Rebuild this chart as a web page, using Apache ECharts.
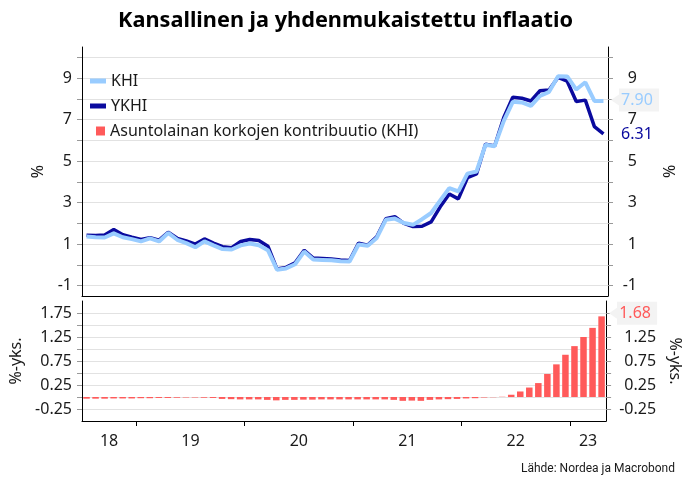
<!DOCTYPE html>
<html><head><meta charset="utf-8">
<script src="https://cdn.jsdelivr.net/npm/echarts@6/dist/echarts.min.js"></script>
<style>html,body{margin:0;padding:0;background:#fff}#c{width:691px;height:485px}</style>
</head><body><div id="c"></div>
<script>
const months = ['2018-07','2018-08','2018-09','2018-10','2018-11','2018-12',
'2019-01','2019-02','2019-03','2019-04','2019-05','2019-06','2019-07','2019-08','2019-09','2019-10','2019-11','2019-12',
'2020-01','2020-02','2020-03','2020-04','2020-05','2020-06','2020-07','2020-08','2020-09','2020-10','2020-11','2020-12',
'2021-01','2021-02','2021-03','2021-04','2021-05','2021-06','2021-07','2021-08','2021-09','2021-10','2021-11','2021-12',
'2022-01','2022-02','2022-03','2022-04','2022-05','2022-06','2022-07','2022-08','2022-09','2022-10','2022-11','2022-12',
'2023-01','2023-02','2023-03','2023-04'];
const khi = [1.37,1.33,1.32,1.52,1.33,1.24,1.13,1.28,1.13,1.54,1.21,1.05,0.85,1.13,0.94,0.76,0.74,0.94,1.03,0.95,0.71,-0.23,-0.17,0.03,0.64,0.26,0.24,0.22,0.17,0.16,0.98,0.92,1.30,2.17,2.23,2.02,1.93,2.20,2.50,3.10,3.70,3.54,4.40,4.50,5.79,5.72,6.93,7.86,7.83,7.66,8.14,8.34,9.09,9.08,8.45,8.80,7.90,7.90];
const ykhi = [1.43,1.42,1.44,1.70,1.45,1.33,1.22,1.31,1.19,1.57,1.28,1.15,1.00,1.25,1.05,0.88,0.83,1.13,1.22,1.17,0.90,-0.20,-0.12,0.10,0.70,0.33,0.31,0.28,0.24,0.21,1.05,0.95,1.35,2.22,2.32,2.00,1.85,1.86,2.07,2.80,3.42,3.18,4.20,4.38,5.82,5.73,7.09,8.08,8.03,7.90,8.39,8.43,9.04,8.85,7.87,7.94,6.66,6.31];
const contrib = [-0.035,-0.035,-0.035,-0.03,-0.03,-0.03,-0.025,-0.025,-0.02,-0.02,-0.015,-0.01,-0.01,-0.015,-0.02,-0.04,-0.045,-0.05,-0.05,-0.05,-0.06,-0.07,-0.06,-0.06,-0.055,-0.055,-0.05,-0.05,-0.05,-0.05,-0.05,-0.05,-0.05,-0.05,-0.06,-0.08,-0.075,-0.08,-0.06,-0.05,-0.045,-0.04,-0.03,-0.025,-0.01,-0.005,0.005,0.047,0.115,0.197,0.29,0.48,0.68,0.88,1.06,1.25,1.44,1.68];
const topTicks = [-1,0,1,2,3,4,5,6,7,8,9,10];
const topLabels = [-1,1,3,5,7,9];
const botTicks = [-0.25,0,0.25,0.5,0.75,1,1.25,1.5,1.75];
const botLabels = [-0.25,0.25,0.75,1.25,1.75];

const FONT = 'Noto Sans';
const TXT = '#1a1a1a';
const C_KHI = '#99ccff', C_YKHI = '#0a0a9e', C_BAR = '#ff5a5a';
const BAR_NAME = 'Asuntolainan korkojen kontribuutio (KHI)';

// year boundaries and label positions derived from categories
const janIdx = [], yearPos = [], yearLab = [];
const years = {};
months.forEach((m, i) => {
  const y = m.slice(2, 4);
  if (m.endsWith('-01') && i > 0) janIdx.push(i);
  if (!years[y]) years[y] = [i, i]; else years[y][1] = i;
});
Object.keys(years).forEach(y => { yearPos.push((years[y][0] + years[y][1] + 1) / 2); yearLab.push(y); });

const TAG = 'path://M0,11.5 L8,6 L8,0 L48,0 L48,23 L8,23 L8,17 Z';
const last = months.length - 1;
function tagPoint(val, color, bg, dy) {
  return {
    symbol: TAG, symbolSize: [48, 23], symbolOffset: [31.5, dy], silent: true,
    itemStyle: { color: bg },
    label: { show: true, position: 'inside', offset: [2, 0], color: color, fontSize: 16, fontFamily: FONT, formatter: p => p.value },
    data: [{ coord: [months[last], val], value: val.toFixed(2) }]
  };
}
const lab = { fontSize: 16, fontFamily: FONT, color: TXT };
const nameStyle = { fontSize: 16, fontFamily: FONT, color: TXT };

const chart = echarts.init(document.getElementById('c'), null, { renderer: 'canvas' });
chart.setOption({
  animation: false,
  backgroundColor: '#fff',
  title: [
    { text: 'Kansallinen ja yhdenmukaistettu inflaatio', left: 'center', top: 5,
      textStyle: { fontSize: 21.7, fontWeight: 'bold', fontFamily: FONT, color: '#000' } },
    { text: 'Lähde: Nordea ja Macrobond', right: 11, top: 458,
      textStyle: { fontSize: 12, fontWeight: 'normal', fontFamily: 'Roboto', color: TXT } }
  ],
  legend: [
    { data: ['KHI', 'YKHI'], orient: 'vertical', left: 85, top: 68, itemWidth: 16, itemHeight: 5, icon: 'rect', itemGap: 9,
      textStyle: lab, selectedMode: false },
    { data: [BAR_NAME], orient: 'vertical', left: 91, top: 118, itemWidth: 9, itemHeight: 9, icon: 'rect',
      textStyle: lab, selectedMode: false }
  ],
  grid: [
    { left: 82, right: 83, top: 47, height: 249 },
    { left: 82, right: 83, top: 301, height: 120 }
  ],
  xAxis: [
    { type: 'category', gridIndex: 0, data: months, boundaryGap: true,
      axisLine: { onZero: false, lineStyle: { color: '#000', width: 1 } }, axisTick: { show: false }, axisLabel: { show: false } },
    { type: 'category', gridIndex: 1, data: months, boundaryGap: true,
      axisLine: { onZero: false, lineStyle: { color: '#000', width: 1 } }, axisTick: { show: false }, axisLabel: { show: false } },
    { type: 'value', gridIndex: 1, min: 0, max: months.length, position: 'bottom',
      axisLine: { show: false, onZero: false }, splitLine: { show: false },
      axisTick: { show: true, customValues: janIdx, length: 5, lineStyle: { color: '#000' } },
      axisLabel: { customValues: yearPos, margin: 12, ...lab,
        formatter: v => { const k = yearPos.findIndex(p => Math.abs(p - v) < 1e-6); return k >= 0 ? yearLab[k] : ''; } } }
  ],
  yAxis: [
    { type: 'value', gridIndex: 0, position: 'left', min: -1.5, max: 10.5,
      axisLine: { show: true, lineStyle: { color: '#000' } },
      axisTick: { show: true, customValues: topTicks, length: 5, lineStyle: { color: '#999' } },
      axisLabel: { customValues: topLabels, margin: 10, ...lab },
      splitLine: { show: true, lineStyle: { color: '#e2e2e2' } },
      name: '%', nameLocation: 'middle', nameGap: 34, nameTextStyle: nameStyle },
    { type: 'value', gridIndex: 0, position: 'right', min: -1.5, max: 10.5,
      axisLine: { show: true, lineStyle: { color: '#000' } },
      axisTick: { show: true, customValues: topTicks, length: 5, lineStyle: { color: '#999' } },
      axisLabel: { customValues: topLabels, margin: 29, align: 'right', ...lab },
      splitLine: { show: false },
      name: '%', nameLocation: 'middle', nameGap: 52, nameRotate: -90, nameTextStyle: nameStyle },
    { type: 'value', gridIndex: 1, position: 'left', min: -0.5, max: 2,
      axisLine: { show: true, lineStyle: { color: '#000' } },
      axisTick: { show: true, customValues: botTicks, length: 5, lineStyle: { color: '#999' } },
      axisLabel: { customValues: botLabels, margin: 10, ...lab },
      splitLine: { show: true, lineStyle: { color: '#e2e2e2' } },
      name: '%-yks.', nameLocation: 'middle', nameGap: 55, nameTextStyle: nameStyle },
    { type: 'value', gridIndex: 1, position: 'right', min: -0.5, max: 2,
      axisLine: { show: true, lineStyle: { color: '#000' } },
      axisTick: { show: true, customValues: botTicks, length: 5, lineStyle: { color: '#999' } },
      axisLabel: { customValues: botLabels, margin: 50, align: 'right', ...lab },
      splitLine: { show: false },
      name: '%-yks.', nameLocation: 'middle', nameGap: 54, nameRotate: -90, nameTextStyle: nameStyle }
  ],
  series: [
    { name: 'YKHI', type: 'line', xAxisIndex: 0, yAxisIndex: 0, data: ykhi, color: C_YKHI,
      showSymbol: false, symbol: 'none', lineStyle: { width: 3.5, color: C_YKHI },
      markPoint: tagPoint(ykhi[last], C_YKHI, 'rgba(255,255,255,0)', 0) },
    { name: 'KHI', type: 'line', xAxisIndex: 0, yAxisIndex: 0, data: khi, color: C_KHI,
      showSymbol: false, symbol: 'none', lineStyle: { width: 4, color: C_KHI },
      markPoint: tagPoint(khi[last], C_KHI, '#f3f3f3', -1) },
    { name: BAR_NAME, type: 'bar', xAxisIndex: 1, yAxisIndex: 2, data: contrib, color: C_BAR,
      barWidth: '72%', itemStyle: { color: C_BAR },
      markPoint: tagPoint(contrib[last], C_BAR, '#f3f3f3', -3) }
  ]
});
</script></body></html>
